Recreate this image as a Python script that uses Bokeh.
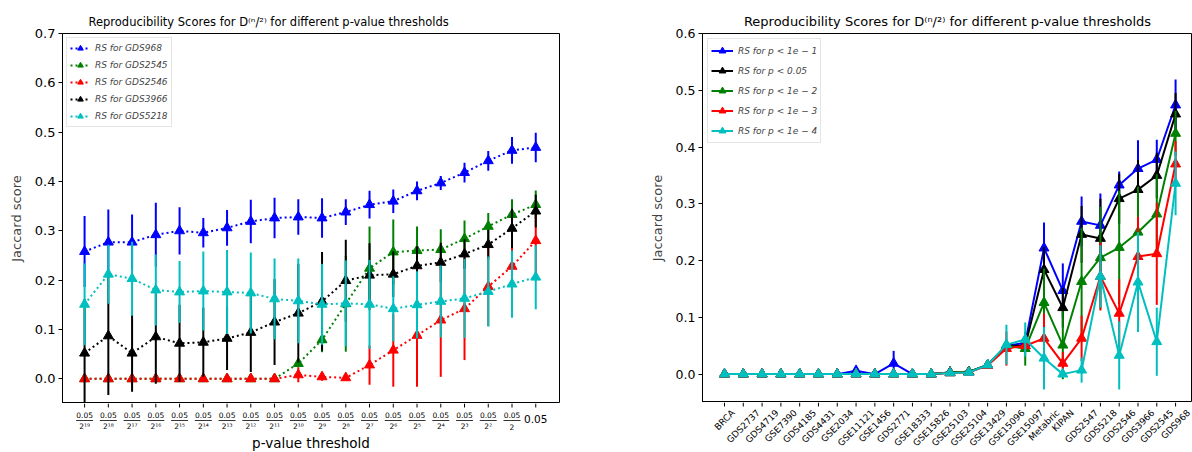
import math
from bokeh.plotting import figure
from bokeh.layouts import row, column
from bokeh.models import Range1d, FixedTicker, Legend, LegendItem, PrintfTickFormatter
from bokeh.embed import file_html
from bokeh.resources import INLINE
from bokeh.core.properties import value

FONT = "DejaVu Sans"

# ---------------- LEFT PANEL DATA ----------------
left_x = list(range(20))
left_numerators = ["0.05"] * 19
left_denominators = ["2¹⁹", "2¹⁸", "2¹⁷", "2¹⁶", "2¹⁵", "2¹⁴", "2¹³", "2¹²", "2¹¹", "2¹⁰",
                     "2⁹", "2⁸", "2⁷", "2⁶", "2⁵", "2⁴", "2³", "2²", "2"]
left_last_label = "0.05"

gds968 = [0.258, 0.277, 0.277, 0.292, 0.300, 0.296, 0.306, 0.319, 0.326, 0.328,
          0.326, 0.338, 0.353, 0.360, 0.381, 0.397, 0.418, 0.442, 0.463, 0.469]
gds968_err = [0.072, 0.066, 0.056, 0.065, 0.048, 0.030, 0.036, 0.044, 0.041, 0.036,
              0.040, 0.026, 0.028, 0.024, 0.019, 0.014, 0.020, 0.020, 0.027, 0.030]
gds2545 = [0, 0, 0, 0, 0, 0, 0, 0, 0, 0.031,
           0.079, 0.152, 0.224, 0.257, 0.260, 0.262, 0.284, 0.309, 0.333, 0.353]
gds2545_err = [0, 0, 0, 0, 0, 0, 0, 0, 0, 0.008,
               0.025, 0.097, 0.085, 0.066, 0.049, 0.041, 0.037, 0.027, 0.031, 0.029]
gds2546 = [0, 0, 0, 0, 0, 0, 0, 0, 0, 0.008,
           0.004, 0.002, 0.028, 0.058, 0.088, 0.119, 0.142, 0.187, 0.228, 0.280]
gds2546_err = [0, 0, 0, 0, 0, 0, 0, 0, 0, 0.015,
               0.008, 0.0, 0.040, 0.074, 0.104, 0.115, 0.104, 0.080, 0.050, 0.070]
gds3966 = [0.052, 0.087, 0.052, 0.085, 0.072, 0.074, 0.082, 0.094, 0.115, 0.133,
           0.157, 0.199, 0.210, 0.212, 0.229, 0.236, 0.253, 0.272, 0.305, 0.340]
gds3966_err = [0.110, 0.120, 0.078, 0.095, 0.078, 0.070, 0.064, 0.080, 0.087, 0.100,
               0.100, 0.083, 0.065, 0.046, 0.040, 0.040, 0.030, 0.030, 0.040, 0.033]
gds5218 = [0.151, 0.212, 0.203, 0.180, 0.176, 0.178, 0.176, 0.174, 0.162, 0.158,
           0.151, 0.153, 0.151, 0.142, 0.150, 0.157, 0.163, 0.177, 0.192, 0.206]
gds5218_err = [0.083, 0.060, 0.075, 0.072, 0.063, 0.080, 0.085, 0.082, 0.082, 0.086,
               0.082, 0.087, 0.090, 0.066, 0.068, 0.073, 0.080, 0.071, 0.068, 0.065]

left_series = [
    ("RS for GDS968", gds968, gds968_err, "#0000ff"),
    ("RS for GDS2545", gds2545, gds2545_err, "#008000"),
    ("RS for GDS2546", gds2546, gds2546_err, "#ff0000"),
    ("RS for GDS3966", gds3966, gds3966_err, "#000000"),
    ("RS for GDS5218", gds5218, gds5218_err, "#00bfbf"),
]
left_yticks = [0.0, 0.1, 0.2, 0.3, 0.4, 0.5, 0.6, 0.7]

# ---------------- RIGHT PANEL DATA ----------------
datasets = ["BRCA", "GDS2737", "GDS4719", "GSE7390", "GDS4185", "GDS4431", "GSE2034",
            "GSE11121", "GSE1456", "GDS2771", "GSE18333", "GSE15826", "GSE25103",
            "GSE25104", "GSE13429", "GSE15096", "GSE15097", "Metabric", "KIPAN",
            "GDS2547", "GDS5218", "GDS2546", "GDS3966", "GDS2545", "GDS968"]
right_x = list(range(len(datasets)))

p_1e1 = [0, 0, 0, 0, 0, 0, 0, 0.006, 0, 0.019, 0, 0, 0.003, 0.004, 0.016,
         0.050, 0.055, 0.222, 0.147, 0.269, 0.262, 0.333, 0.362, 0.378, 0.474]
p_1e1_err = [0, 0, 0, 0, 0, 0, 0, 0.004, 0, 0.022, 0, 0, 0, 0, 0.004,
             0.010, 0.010, 0.045, 0.048, 0.044, 0.056, 0.024, 0.050, 0.035, 0.045]
p_005 = [0, 0, 0, 0, 0, 0, 0, 0, 0, 0, 0, 0, 0.003, 0.004, 0.016,
         0.050, 0.050, 0.184, 0.117, 0.246, 0.239, 0.309, 0.325, 0.350, 0.458]
p_005_err = [0, 0, 0, 0, 0, 0, 0, 0, 0, 0, 0, 0, 0, 0, 0.004,
             0.010, 0.010, 0.040, 0.035, 0.050, 0.070, 0.044, 0.052, 0.040, 0.037]
p_1e2 = [0, 0, 0, 0, 0, 0, 0, 0, 0, 0, 0, 0, 0.003, 0.004, 0.016,
         0.050, 0.045, 0.126, 0.051, 0.163, 0.205, 0.223, 0.250, 0.282, 0.424]
p_1e2_err = [0, 0, 0, 0, 0, 0, 0, 0, 0, 0, 0, 0, 0, 0, 0.004,
             0.010, 0.030, 0.060, 0.060, 0.095, 0.090, 0.100, 0.080, 0.070, 0.040]
p_1e3 = [0, 0, 0, 0, 0, 0, 0, 0, 0, 0, 0, 0, 0.002, 0.003, 0.015,
         0.045, 0.050, 0.063, 0.019, 0.063, 0.172, 0.107, 0.207, 0.212, 0.370]
p_1e3_err = [0, 0, 0, 0, 0, 0, 0, 0, 0, 0, 0, 0, 0, 0, 0.004,
             0.030, 0.010, 0.044, 0.020, 0.040, 0.060, 0.060, 0.070, 0.090, 0.040]
p_1e4 = [0, 0, 0, 0, 0, 0, 0, 0, 0, 0, 0, 0, 0.002, 0.003, 0.016,
         0.052, 0.061, 0.028, 0.000, 0.007, 0.172, 0.033, 0.162, 0.057, 0.336]
p_1e4_err = [0, 0, 0, 0, 0, 0, 0, 0, 0, 0, 0, 0, 0, 0, 0.004,
             0.035, 0.030, 0.055, 0.005, 0.022, 0.055, 0.060, 0.088, 0.060, 0.056]

right_series = [
    ("RS for p < 1e − 1", p_1e1, p_1e1_err, "#0000ff"),
    ("RS for p < 0.05", p_005, p_005_err, "#000000"),
    ("RS for p < 1e − 2", p_1e2, p_1e2_err, "#008000"),
    ("RS for p < 1e − 3", p_1e3, p_1e3_err, "#ff0000"),
    ("RS for p < 1e − 4", p_1e4, p_1e4_err, "#00bfbf"),
]
right_yticks = [0.0, 0.1, 0.2, 0.3, 0.4, 0.5, 0.6]

TITLE = "Reproducibility Scores for D⁽ⁿ/²⁾ for different p-value thresholds"

# approximate DejaVu Sans advance widths (em) used to centre rotated labels
CHAR_W = {"G": 0.775, "D": 0.770, "S": 0.635, "E": 0.632, "B": 0.686, "R": 0.695,
          "C": 0.698, "A": 0.684, "M": 0.863, "K": 0.656, "I": 0.295, "P": 0.603,
          "N": 0.748, "e": 0.615, "t": 0.392, "a": 0.613, "b": 0.635, "r": 0.411,
          "i": 0.278, "c": 0.550}


def text_width(s, size):
    return sum(CHAR_W.get(ch, 0.636) for ch in s) * size


def style_common(p):
    p.grid.visible = False
    p.outline_line_color = "black"
    p.outline_line_width = 1
    p.background_fill_color = "white"
    p.border_fill_color = "white"
    p.title.text_font = FONT
    p.title.text_font_style = "normal"
    p.title.text_color = "black"


def style_yaxis(ax, ticks, size):
    ax.ticker = FixedTicker(ticks=ticks)
    ax.formatter = PrintfTickFormatter(format="%.1f")
    ax.minor_tick_line_color = None
    ax.major_tick_out = 4
    ax.major_tick_in = 0
    ax.major_label_standoff = 3
    ax.major_label_text_font = FONT
    ax.major_label_text_font_size = size
    ax.major_label_text_color = "black"
    ax.axis_line_color = "black"
    ax.major_tick_line_color = "black"
    ax.axis_label = "Jaccard score"
    ax.axis_label_text_font = FONT
    ax.axis_label_text_font_style = "normal"
    ax.axis_label_text_font_size = "13px"
    ax.axis_label_standoff = 8


def strip_figure(width, height, xr, left, right):
    s = figure(width=width, height=height, x_range=xr, y_range=Range1d(height, 0),
               x_axis_location=None, y_axis_location=None, output_backend="svg",
               toolbar_location=None, min_border_left=left, min_border_right=right,
               min_border_top=0, min_border_bottom=0)
    s.grid.visible = False
    s.outline_line_color = None
    s.background_fill_color = "white"
    s.border_fill_color = "white"
    return s


# ---------------- LEFT FIGURE ----------------
L_LEFT, L_RIGHT, L_W = 62, 41, 600
p1 = figure(width=L_W, height=403, x_range=Range1d(-0.93, 20.0), y_range=Range1d(-0.05, 0.7),
            x_axis_location=None, output_backend="svg", toolbar_location=None,
            min_border_left=L_LEFT, min_border_right=L_RIGHT, min_border_top=33, min_border_bottom=0)
style_common(p1)
p1.title.text = TITLE
p1.title.align = "left"
p1.title.offset = 26
p1.title.text_font_size = "11.5px"
style_yaxis(p1.yaxis[0], left_yticks, "13px")

left_items = []
for label, ys, errs, color in left_series:
    p1.segment(x0=left_x, y0=[y - e for y, e in zip(ys, errs)], x1=left_x,
               y1=[y + e for y, e in zip(ys, errs)], line_color=color, line_width=2)
    ln = p1.line(left_x, ys, line_color=color, line_width=2, line_dash="2 3")
    sc = p1.scatter(left_x, ys, marker="triangle", size=10, fill_color=color, line_color=color)
    left_items.append(LegendItem(label=label, renderers=[ln, sc]))

leg1 = Legend(items=left_items, location="top_left", margin=4, padding=3, spacing=3,
              glyph_width=20, glyph_height=14, label_height=14, label_standoff=5,
              label_text_font=FONT, label_text_font_size="9px", label_text_font_style="italic",
              border_line_color="#cccccc", border_line_width=1, background_fill_alpha=0.8)
p1.add_layout(leg1, "center")

# strip with fractional tick labels
p1s = strip_figure(L_W, 49, p1.x_range, L_LEFT, L_RIGHT)
p1s.segment(x0=left_x, y0=[0] * len(left_x), x1=left_x, y1=[4] * len(left_x),
            line_color="black", line_width=1)
frac_x = left_x[:19]
p1s.text(x=frac_x, y=[11.5] * 19, text=left_numerators, text_align="center",
         text_baseline="middle", text_font=value(FONT), text_font_size="7.5px", text_color="black")
px_per_unit_l = (L_W - L_LEFT - L_RIGHT) / (20.0 + 0.93)
half_bar = 8.5 / px_per_unit_l
p1s.segment(x0=[x - half_bar for x in frac_x], y0=[17] * 19, x1=[x + half_bar for x in frac_x],
            y1=[17] * 19, line_color="black", line_width=0.8)
p1s.text(x=frac_x, y=[23] * 19, text=left_denominators, text_align="center",
         text_baseline="middle", text_font=value(FONT), text_font_size="7.5px", text_color="black")
p1s.text(x=[left_x[19]], y=[15], text=[left_last_label], text_align="center",
         text_baseline="middle", text_font=value(FONT), text_font_size="10.5px", text_color="black")
p1s.text(x=[(20.0 - 0.93) / 2], y=[39], text=["p-value threshold"], text_align="center",
         text_baseline="middle", text_font=value(FONT), text_font_size="13.5px", text_color="black")

# ---------------- RIGHT FIGURE ----------------
R_LEFT, R_RIGHT, R_W = 102, 0, 592
R_XMIN, R_XMAX = -1.17, 24.9
p2 = figure(width=R_W, height=402, x_range=Range1d(R_XMIN, R_XMAX), y_range=Range1d(-0.05, 0.6),
            x_axis_location=None, output_backend="svg", toolbar_location=None,
            min_border_left=R_LEFT, min_border_right=R_RIGHT, min_border_top=33, min_border_bottom=0)
style_common(p2)
p2.title.text = TITLE
p2.title.align = "center"
p2.title.text_font_size = "13px"
style_yaxis(p2.yaxis[0], right_yticks, "12.5px")

right_items = []
for label, ys, errs, color in right_series:
    p2.segment(x0=right_x, y0=[y - e for y, e in zip(ys, errs)], x1=right_x,
               y1=[y + e for y, e in zip(ys, errs)], line_color=color, line_width=2)
    ln = p2.line(right_x, ys, line_color=color, line_width=2)
    sc = p2.scatter(right_x, ys, marker="triangle", size=10, fill_color=color, line_color=color)
    right_items.append(LegendItem(label=label, renderers=[ln, sc]))

leg2 = Legend(items=right_items, location="top_left", margin=5, padding=3, spacing=3,
              glyph_width=22, glyph_height=17, label_height=17, label_standoff=5,
              label_text_font=FONT, label_text_font_size="9px", label_text_font_style="italic",
              border_line_color="#cccccc", border_line_width=1, background_fill_alpha=0.8)
p2.add_layout(leg2, "center")

# strip with rotated category labels (bounding box centred under each tick)
p2s = strip_figure(R_W, 50, p2.x_range, R_LEFT, R_RIGHT)
p2s.segment(x0=right_x, y0=[0] * len(right_x), x1=right_x, y1=[4] * len(right_x),
            line_color="black", line_width=1)
LBL = 9.0
px_per_unit_r = (R_W - R_LEFT - R_RIGHT) / (R_XMAX - R_XMIN)
cap_h = 0.73 * LBL
anchor_x = [x + 0.354 * text_width(d, LBL) / px_per_unit_r for x, d in zip(right_x, datasets)]
anchor_y = [6.5 + 0.354 * cap_h] * len(datasets)
p2s.text(x=anchor_x, y=anchor_y, text=datasets, angle=math.pi / 4, text_align="right",
         text_baseline="middle", text_font=value(FONT), text_font_size=f"{LBL}px",
         text_color="black")

layout = row(column(p1, p1s, spacing=0), column(p2, p2s, spacing=0), spacing=0)
open("out.html", "w").write(file_html(layout, INLINE))
